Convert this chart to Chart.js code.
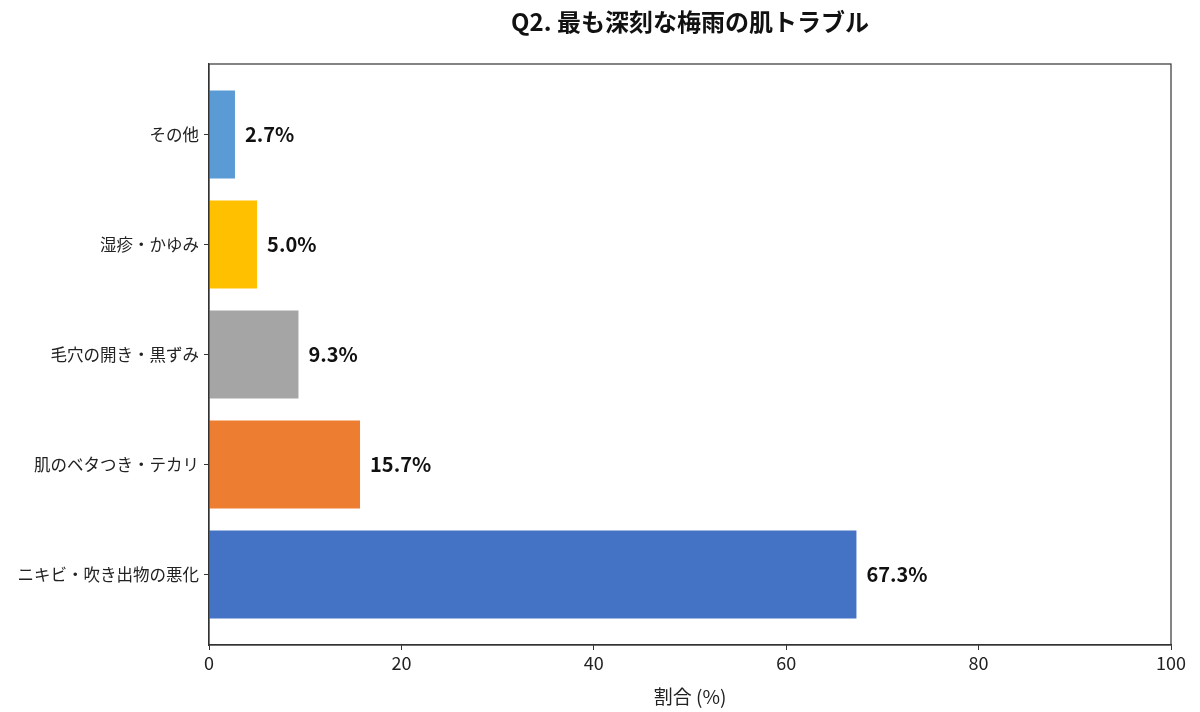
<!DOCTYPE html>
<html>
<head>
<meta charset="utf-8">
<script src="https://cdn.jsdelivr.net/npm/chart.js@4.4.0/dist/chart.umd.min.js"></script>
<style>
  html, body { margin: 0; padding: 0; background: #fff; }
  #wrap { width: 1200px; height: 712px; }
</style>
</head>
<body>
<div id="wrap"><canvas id="chart" width="1200" height="712"></canvas></div>
<script>
// Data
const categories = ["その他", "湿疹・かゆみ", "毛穴の開き・黒ずみ", "肌のベタつき・テカリ", "ニキビ・吹き出物の悪化"];
const shares = [2.7, 5.0, 9.3, 15.7, 67.3];
const barColors = ["#5B9BD5", "#FFC000", "#A5A5A5", "#ED7D31", "#4472C4"];
const xTicks = [0, 20, 40, 60, 80, 100];

const FONT = "'Noto Sans CJK JP', 'Noto Sans', sans-serif";

// Frame around the plot area, title over it, value labels next to bars
const extras = {
  id: "extras",
  afterDraw(chart) {
    const { ctx, chartArea: a } = chart;
    ctx.save();
    ctx.strokeStyle = "#333";
    ctx.lineWidth = 1.2;
    ctx.strokeRect(a.left, a.top, a.right - a.left, a.bottom - a.top);

    ctx.fillStyle = "#111";
    ctx.font = "bold 24px " + FONT;
    ctx.textAlign = "center";
    ctx.textBaseline = "middle";
    ctx.fillText("Q2. 最も深刻な梅雨の肌トラブル", (a.left + a.right) / 2, 22);

    ctx.font = "bold 20px " + FONT;
    ctx.textAlign = "left";
    const meta = chart.getDatasetMeta(0);
    meta.data.forEach((bar, i) => {
      ctx.fillText(shares[i].toFixed(1) + "%", bar.x + 10, bar.y);
    });
    ctx.restore();
  }
};

// bars sit at y = 0..4 on a numeric axis, top to bottom
const points = shares.map((v, i) => ({ x: v, y: i }));

new Chart(document.getElementById("chart"), {
  type: "bar",
  data: {
    datasets: [{
      data: points,
      backgroundColor: barColors,
      borderWidth: 0,
      barPercentage: 0.8,
      categoryPercentage: 1
    }]
  },
  options: {
    indexAxis: "y",
    responsive: false,
    animation: false,
    layout: { padding: { top: 64, right: 29, left: 0, bottom: 0 } },
    plugins: {
      legend: { display: false },
      tooltip: { enabled: false }
    },
    scales: {
      x: {
        type: "linear",
        min: 0,
        max: 100,
        afterBuildTicks: (scale) => { scale.ticks = xTicks.map(v => ({ value: v })); },
        afterFit: (scale) => { scale.height = 67; },
        grid: { drawOnChartArea: false, tickLength: 5, color: "#333" },
        border: { color: "#333", width: 1.2 },
        ticks: { color: "#222", font: { family: FONT, size: 18 }, padding: 2 },
        title: {
          display: true,
          text: "割合 (%)",
          color: "#222",
          font: { family: FONT, size: 19 },
          padding: { top: 0 }
        }
      },
      y: {
        type: "linear",
        reverse: true,
        min: -0.64,
        max: 4.64,
        offset: false,
        afterBuildTicks: (scale) => { scale.ticks = categories.map((c, i) => ({ value: i })); },
        afterFit: (scale) => { scale.width = 209; },
        grid: { drawOnChartArea: false, offset: false, tickLength: 5, color: "#333" },
        border: { color: "#333", width: 1.2 },
        ticks: {
          color: "#222",
          font: { family: FONT, size: 16.5 },
          padding: 5,
          callback: (v) => categories[v]
        }
      }
    }
  },
  plugins: [extras]
});
</script>
</body>
</html>
